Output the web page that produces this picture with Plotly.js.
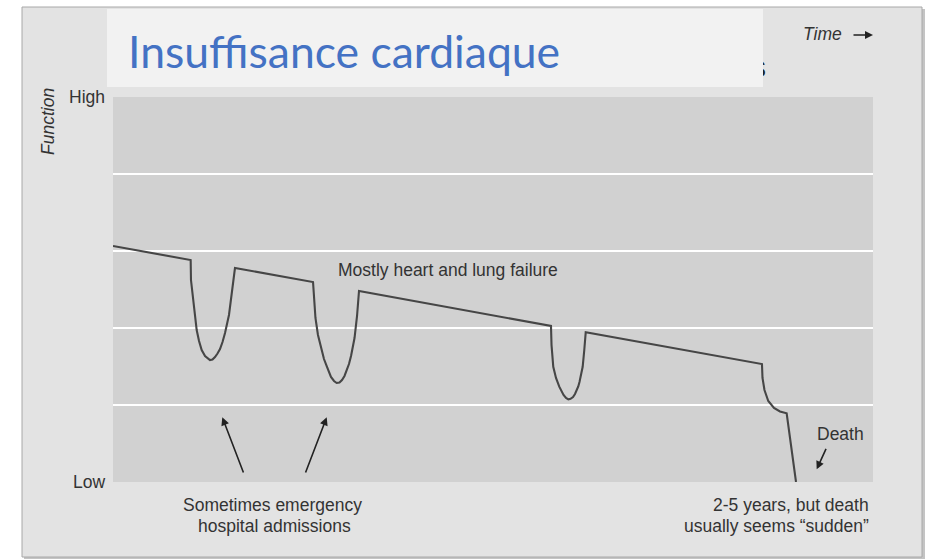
<!DOCTYPE html>
<html>
<head>
<meta charset="utf-8">
<script src="https://cdn.plot.ly/plotly-3.0.1.min.js"></script>
<style>html,body{margin:0;padding:0;background:#fff;}#chart{width:936px;height:559px;}</style>
</head>
<body>
<div id="chart"></div>
<script>
// Time axis (0-100) and function level (0 = Low, 5 = High)
const time = [0,
  10.22, 10.26, 10.49, 10.72, 11.01, 11.32, 11.67, 12.11, 12.43, 12.76, 13.09, 13.42, 13.75, 14.08, 14.41, 14.74, 15.26, 15.59, 15.86, 16.05,
  26.32, 26.45, 26.64, 26.97, 27.5, 27.76, 28.12, 28.68, 29.08, 29.43, 29.80, 30.13, 30.46, 30.79, 31.05, 31.32, 31.78, 32.11, 32.28, 32.37,
  57.63, 57.70, 57.93, 58.29, 58.72, 59.01, 59.28, 59.61, 59.91, 60.20, 60.53, 60.79, 61.05, 61.22, 61.38, 61.80, 62.01, 62.20,
  85.39, 85.46, 85.72, 86.22, 86.97, 87.76, 88.64, 89.87];
const functionLevel = [3.065,
  2.883, 2.623, 2.403, 2.169, 1.974, 1.831, 1.714, 1.636, 1.604, 1.584, 1.591, 1.623, 1.669, 1.727, 1.818, 1.935, 2.169, 2.403, 2.623, 2.779,
  2.597, 2.364, 2.130, 1.909, 1.688, 1.597, 1.506, 1.364, 1.312, 1.286, 1.292, 1.325, 1.377, 1.455, 1.532, 1.636, 1.870, 2.156, 2.364, 2.481,
  2.026, 1.779, 1.497, 1.351, 1.238, 1.175, 1.130, 1.091, 1.074, 1.081, 1.104, 1.143, 1.195, 1.240, 1.299, 1.497, 1.714, 1.944,
  1.532, 1.351, 1.195, 1.052, 0.961, 0.916, 0.892, 0];
const gridLevels = [1, 2, 3, 4];
const levelLabels = ['Low', 'High'];

const W = 936, H = 559, L = 113, R = 63, T = 97, B = 77;
const pw = W - L - R, ph = H - T - B;
const xp = px => (px - L) / pw;
const yp = py => (H - B - py) / ph;

const baseFont = {family: 'Liberation Sans, Arial, sans-serif', size: 17.5, color: '#333333'};
const italicFont = Object.assign({}, baseFont, {style: 'italic'});

function label(text, x, y, xanchor, font) {
  return {text: text, xref: 'paper', yref: 'paper', x: xp(x), y: yp(y), xanchor: xanchor, yanchor: 'middle',
    showarrow: false, font: font || baseFont, borderpad: 0, borderwidth: 0};
}
function arrow(tx, ty, ax, ay, color, width) {
  return {text: '', xref: 'paper', yref: 'paper', x: xp(tx), y: yp(ty), ax: ax, ay: ay, axref: 'pixel', ayref: 'pixel',
    showarrow: true, arrowhead: 2, arrowsize: 1, arrowwidth: width || 1.6, arrowcolor: color || '#222222', standoff: 0};
}

const annotations = [
  // remnant glyph peeking behind the title box
  {text: 's', xref: 'paper', yref: 'paper', x: xp(751), y: yp(67), xanchor: 'left', yanchor: 'middle', showarrow: false,
   font: {family: 'Liberation Sans, Arial, sans-serif', size: 30, color: '#222'}, borderpad: 0, borderwidth: 0},
  // title box
  {text: ' ', xref: 'paper', yref: 'paper', x: xp(107), y: yp(9), xanchor: 'left', yanchor: 'top', width: 656, height: 78,
   bgcolor: '#f2f2f2', showarrow: false, borderpad: 0, borderwidth: 0},
  {text: 'Insuffisance cardiaque', xref: 'paper', yref: 'paper', x: xp(128), y: yp(50), xanchor: 'left', yanchor: 'middle',
   showarrow: false, font: {family: 'Lato, Carlito, sans-serif', size: 44.5, color: '#4472c4'}, borderpad: 0, borderwidth: 0},
  label('Time', 803, 34, 'left', italicFont),
  arrow(873, 35, -21, 0, '#222222', 1.6),
  label(levelLabels[1], 105, 97, 'right'),
  label(levelLabels[0], 105, 482, 'right'),
  Object.assign(label('Function', 48, 122, 'center', italicFont), {textangle: -90}),
  label('Mostly heart and lung failure', 338, 270, 'left'),
  label('Death', 817, 434, 'left'),
  label('Sometimes emergency', 272, 505, 'center'),
  label('hospital admissions', 274, 526, 'center'),
  label('2-5 years, but death', 869, 505, 'right'),
  label('usually seems \u201csudden\u201d', 869, 526, 'right'),
  arrow(222.3, 417.3, 21.7, 56.7),
  arrow(326.7, 417.3, -21.7, 56.7),
  arrow(816.7, 469.3, 10, -22)
];

const shapes = [
  {type: 'rect', xref: 'paper', yref: 'paper', x0: xp(24), x1: xp(925), y0: yp(559), y1: yp(9), fillcolor: '#c4c4c4', line: {width: 0}, layer: 'below'},
  {type: 'rect', xref: 'paper', yref: 'paper', x0: xp(22), x1: xp(922), y0: yp(557), y1: yp(7), fillcolor: '#e3e3e3', line: {color: '#a8a8a8', width: 1}, layer: 'below'},
  {type: 'rect', xref: 'paper', yref: 'paper', x0: 0, x1: 1, y0: 0, y1: 1, fillcolor: '#d1d1d1', line: {width: 0}, layer: 'below'}
];

const data = [{
  x: time, y: functionLevel, type: 'scatter', mode: 'lines',
  line: {color: '#464646', width: 2.1, shape: 'linear'}, hoverinfo: 'skip'
}];

const layout = {
  width: W, height: H,
  margin: {l: L, r: R, t: T, b: B, pad: 0},
  paper_bgcolor: '#ffffff', plot_bgcolor: 'rgba(0,0,0,0)',
  showlegend: false,
  xaxis: {range: [0, 100], showgrid: false, zeroline: false, showline: false, showticklabels: false, ticks: '', fixedrange: true},
  yaxis: {range: [0, 5], tickmode: 'array', tickvals: gridLevels, showgrid: true, gridcolor: '#ffffff', gridwidth: 2.5,
          zeroline: false, showline: false, showticklabels: false, ticks: '', fixedrange: true},
  shapes: shapes,
  annotations: annotations
};

Plotly.newPlot('chart', data, layout, {displayModeBar: false, staticPlot: true});
</script>
</body>
</html>
